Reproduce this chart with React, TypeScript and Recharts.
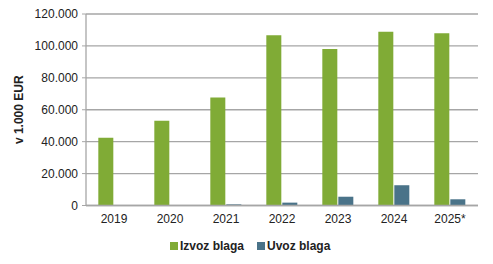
import React from "react";
import { BarChart, Bar, XAxis, YAxis, CartesianGrid, Legend } from "recharts";

const categories = ["2019", "2020", "2021", "2022", "2023", "2024", "2025*"];
const izvoz = [42400, 53100, 67700, 106700, 98100, 108800, 107900];
const uvoz = [0, 0, 700, 1800, 5500, 12700, 3900];
const yTicks = [0, 20000, 40000, 60000, 80000, 100000, 120000];

const data = categories.map((c, i) => ({ year: c, izvoz: izvoz[i], uvoz: uvoz[i] }));

const fmt = (v: number) => (v === 0 ? "0" : v.toLocaleString("de-DE"));

const font = "'Liberation Sans', Arial, sans-serif";

const LegendContent = (props: any) => {
  const payload = props.payload || [];
  return (
    <div style={{ display: "flex", justifyContent: "flex-start", alignItems: "center", height: 20 }}>
      {payload.map((p: any, i: number) => (
        <div key={i} style={{ display: "flex", alignItems: "center", marginRight: i === 0 ? 13 : 0 }}>
          <span style={{ display: "inline-block", width: 8, height: 8, background: p.color, marginRight: 2 }} />
          <span style={{ fontSize: 12, fontWeight: "bold", color: "#222", fontFamily: font }}>{p.value}</span>
        </div>
      ))}
    </div>
  );
};

export default function App() {
  return (
    <div style={{ position: "absolute", left: 0, top: 0, width: 493, height: 264, background: "#fff", fontFamily: font }}>
      <BarChart
        width={493}
        height={264}
        data={data}
        margin={{ top: 14, right: 15, left: 0, bottom: 14.5 }}
        barCategoryGap="22%"
        barGap={1}
      >
        <CartesianGrid vertical={false} stroke="#a6a6a6" strokeWidth={1.3} />
        <XAxis
          dataKey="year"
          height={24}
          tickLine={false}
          axisLine={{ stroke: "#a6a6a6", strokeWidth: 1.3 }}
          tick={{ fill: "#222", fontSize: 12, fontFamily: font }}
          tickMargin={3}
        />
        <YAxis
          width={86}
          domain={[0, 120000]}
          ticks={yTicks}
          tickFormatter={fmt}
          tickSize={4}
          tickLine={{ stroke: "#a6a6a6" }}
          axisLine={{ stroke: "#a6a6a6", strokeWidth: 1.3 }}
          tick={{ fill: "#222", fontSize: 12, fontFamily: font }}
          tickMargin={4}
          interval={0}
          label={{
            value: "v 1.000 EUR",
            angle: -90,
            position: "insideLeft",
            offset: 19,
            style: { textAnchor: "middle", fontWeight: "bold", fontSize: 12, fill: "#222", fontFamily: font },
          }}
        />
        <Legend
          verticalAlign="bottom"
          height={20}
          content={<LegendContent />}
          wrapperStyle={{ top: 236, left: 170, bottom: "auto", width: "auto", height: 20 }}
        />
        <Bar dataKey="izvoz" name="Izvoz blaga" fill="#80ab36" isAnimationActive={false} />
        <Bar dataKey="uvoz" name="Uvoz blaga" fill="#4a7389" isAnimationActive={false} />
      </BarChart>
    </div>
  );
}
